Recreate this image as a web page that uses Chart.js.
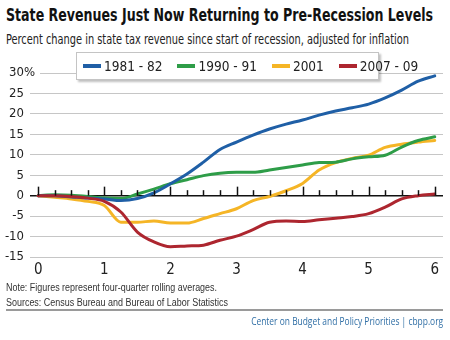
<!DOCTYPE html>
<html>
<head>
<meta charset="utf-8">
<script src="https://cdn.jsdelivr.net/npm/chart.js@4"></script>
<style>
  html, body { margin: 0; padding: 0; background: #fff; }
  #wrap { position: relative; width: 450px; height: 340px; overflow: hidden; }
  .txt { position: absolute; white-space: nowrap; line-height: 1; }
  #title { left: 6px; top: 4px; font: bold 18px 'Liberation Sans Narrow', 'DejaVu Sans Condensed', sans-serif; color: #111; }
  #subtitle { left: 6px; top: 31px; font: 14.5px 'Liberation Sans Narrow', 'DejaVu Sans Condensed', sans-serif; color: #222; }
  #note { left: 6px; top: 282px; font: 10px 'Liberation Sans', Arial, sans-serif; color: #333; }
  #sources { left: 6px; top: 297px; font: 10px 'Liberation Sans', Arial, sans-serif; color: #333; }
  #credit { position: absolute; left: 6px; top: 309px; width: 437px; height: 25px; border-top: 2px solid #9a9a9a; }
  #footer { right: 0; top: 3px; font: 10px 'Open Sans', 'Noto Sans', sans-serif; color: #2f6ea5; }
  #chart { position: absolute; left: 0; top: 45px; }
  #legend {
    position: absolute; left: 76px; top: 52px; width: 295px; height: 26px;
    background: #fff; border: 1px solid #c4c4c4; box-shadow: 2px 2px 2px rgba(0,0,0,0.25);
    display: flex; align-items: center; padding-left: 6px; box-sizing: content-box;
  }
  .legend-item { display: flex; align-items: center; margin-right: 15px; white-space: nowrap; flex: none;
    font: 13.5px 'Liberation Sans Narrow', 'DejaVu Sans Condensed', sans-serif; color: #222; }
  .legend-item:last-child { margin-right: 0; }
  .legend-swatch { width: 18px; height: 4px; margin-right: 3px; }
</style>
</head>
<body>
<div id="wrap">
  <div class="txt" id="title" data-w="427">State Revenues Just Now Returning to Pre-Recession Levels</div>
  <div class="txt" id="subtitle" data-w="403">Percent change in state tax revenue since start of recession, adjusted for inflation</div>
  <canvas id="chart" width="450" height="240"></canvas>
  <div id="legend"></div>
  <div class="txt" id="note" data-w="211">Note: Figures represent four-quarter rolling averages.</div>
  <div class="txt" id="sources" data-w="222">Sources: Census Bureau and Bureau of Labor Statistics</div>
  <div id="credit">
    <div class="txt" id="footer" data-w="192">Center on Budget and Policy Priorities | cbpp.org</div>
  </div>
</div>
<script>
// years since the start of each recession, one point per quarter
const quarters = [0, 0.25, 0.5, 0.75, 1, 1.25, 1.5, 1.75, 2, 2.25, 2.5, 2.75, 3,
  3.25, 3.5, 3.75, 4, 4.25, 4.5, 4.75, 5, 5.25, 5.5, 5.75, 6];
const yearTicks = [0, 1, 2, 3, 4, 5, 6];
const percentTicks = [-15, -10, -5, 0, 5, 10, 15, 20, 25, 30];

const seriesNames = ['1981 - 82', '1990 - 91', '2001', '2007 - 09'];
const seriesColors = ['#1f5fa6', '#2e9d48', '#f5b526', '#ad262f'];

const rev1981 = [0, 0, -0.3, -0.6, -0.8, -1.2, -0.7, 0.7, 2.9, 5.3, 8.2, 11.3, 13.1,
  14.8, 16.3, 17.5, 18.5, 19.7, 20.7, 21.5, 22.4, 23.9, 25.8, 28.0, 29.3];
const rev1990 = [0, 0.2, 0.1, -0.2, -0.6, -0.7, 0.4, 1.6, 2.9, 3.9, 4.9, 5.5, 5.7,
  5.7, 6.3, 6.9, 7.5, 8.1, 8.2, 9.0, 9.5, 9.9, 11.9, 13.5, 14.4];
const rev2001 = [0, -0.4, -0.8, -1.4, -2.4, -6.5, -6.5, -6.2, -6.7, -6.7, -5.6, -4.4, -3.2,
  -1.2, -0.2, 1.2, 3.0, 6.3, 8.1, 9.1, 9.9, 11.8, 12.6, 13.1, 13.5];
const rev2007 = [0, 0, -0.2, -0.6, -1.4, -4.0, -8.9, -11.3, -12.5, -12.3, -12.1, -10.9, -9.9,
  -8.3, -6.5, -6.2, -6.3, -5.9, -5.5, -5.1, -4.4, -2.8, -0.8, 0, 0.4];

const seriesValues = [rev1981, rev1990, rev2001, rev2007];
const drawOrder = [2, 3, 4, 1]; // lower = drawn on top

const FONT_NARROW = "'Liberation Sans Narrow', 'DejaVu Sans Condensed', sans-serif";

// squeeze text blocks horizontally to their box width
function fitWidths() {
  document.querySelectorAll('[data-w]').forEach(el => {
    const target = parseFloat(el.dataset.w);
    const actual = el.getBoundingClientRect().width;
    el.style.transformOrigin = el.id === 'footer' ? 'right top' : 'left top';
    if (actual > 0) el.style.transform = `scaleX(${target / actual})`;
  });
}

// quarter tick marks standing on the zero line, plus the % after the top label
const axisMarks = {
  id: 'axisMarks',
  afterDatasetsDraw(chart) {
    const { ctx, scales: { x, y } } = chart;
    const y0 = y.getPixelForValue(0);
    ctx.save();
    ctx.strokeStyle = '#111';
    ctx.lineWidth = 1.5;
    quarters.forEach(q => {
      const px = Math.round(x.getPixelForValue(q)) + 0.5;
      const len = Number.isInteger(q) ? 9 : 5.5;
      ctx.beginPath();
      ctx.moveTo(px, y0);
      ctx.lineTo(px, y0 - len);
      ctx.stroke();
    });
    ctx.restore();
  },
  afterDraw(chart) {
    const { ctx, scales: { y } } = chart;
    const top = percentTicks[percentTicks.length - 1];
    const py = y.getPixelForValue(top);
    ctx.save();
    // keep the top grid line clear of the percent sign
    ctx.fillStyle = '#fff';
    ctx.fillRect(y.right, py - 2, 10, 4);
    ctx.font = '13px ' + FONT_NARROW;
    ctx.fillStyle = '#222';
    ctx.textBaseline = 'middle';
    ctx.textAlign = 'left';
    ctx.fillText('%', y.right - 6, py);
    ctx.restore();
  }
};

function buildLegend(chart) {
  const box = document.getElementById('legend');
  box.innerHTML = '';
  chart.data.datasets.forEach(ds => {
    const item = document.createElement('div');
    item.className = 'legend-item';
    const sw = document.createElement('span');
    sw.className = 'legend-swatch';
    sw.style.background = ds.borderColor;
    const label = document.createElement('span');
    label.textContent = ds.label;
    item.appendChild(sw);
    item.appendChild(label);
    box.appendChild(item);
  });
}

document.addEventListener('DOMContentLoaded', function () {
  fitWidths();

  const datasets = seriesNames.map((name, i) => ({
    label: name,
    data: quarters.map((q, j) => ({ x: q, y: seriesValues[i][j] })),
    borderColor: seriesColors[i],
    backgroundColor: seriesColors[i],
    borderWidth: 3,
    pointRadius: 0,
    cubicInterpolationMode: 'monotone',
    borderCapStyle: 'round',
    order: drawOrder[i]
  }));

  const chart = new Chart(document.getElementById('chart'), {
    type: 'line',
    data: { datasets },
    options: {
      responsive: false,
      animation: false,
      layout: { padding: { top: 28, right: 7, left: 0, bottom: 0 } },
      plugins: { legend: { display: false }, tooltip: { enabled: false } },
      scales: {
        x: {
          type: 'linear',
          min: -0.125,
          max: 6.125,
          afterBuildTicks: scale => { scale.ticks = yearTicks.map(v => ({ value: v })); },
          afterFit: scale => { scale.height = 28; },
          grid: { display: false },
          border: { display: false },
          ticks: {
            padding: -4,
            color: '#222',
            font: { family: FONT_NARROW, size: 15 },
            callback: v => String(v)
          }
        },
        y: {
          min: -15,
          max: 30,
          afterBuildTicks: scale => { scale.ticks = percentTicks.map(v => ({ value: v })); },
          afterFit: scale => { scale.width = 30; },
          border: { display: false },
          grid: {
            drawTicks: false,
            tickLength: 0,
            color: c => (c.tick && c.tick.value === 0 ? '#111' : '#c6c6c6'),
            lineWidth: c => (c.tick && c.tick.value === 0 ? 1.5 : 1)
          },
          ticks: {
            padding: 6,
            color: '#222',
            font: { family: FONT_NARROW, size: 13 },
            callback: v => String(v)
          }
        }
      }
    },
    plugins: [axisMarks]
  });

  buildLegend(chart);
});
</script>
</body>
</html>
